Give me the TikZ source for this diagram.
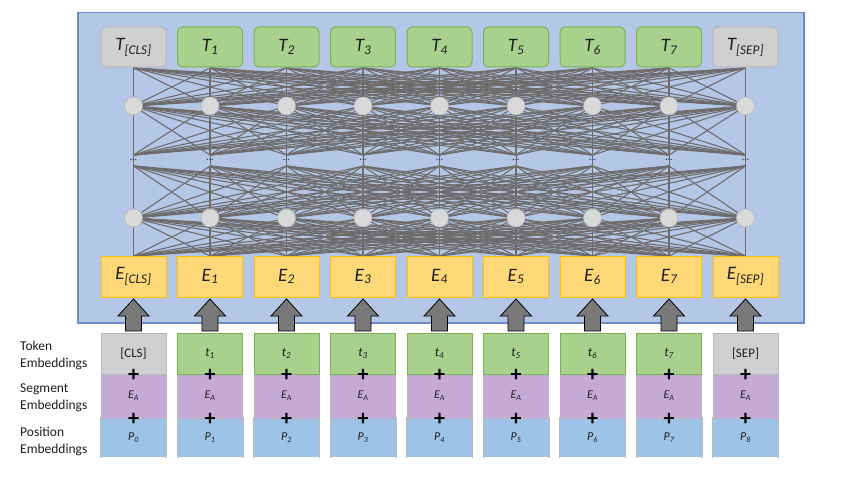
\documentclass[tikz,border=0pt]{standalone}
\usepackage{fontspec}
\setmainfont{Carlito}
\usetikzlibrary{calc}
\definecolor{bluebg}{RGB}{180,199,231}
\definecolor{blueedge}{RGB}{110,140,195}
\definecolor{grnfill}{RGB}{169,209,142}
\definecolor{grnedge}{RGB}{120,180,80}
\definecolor{gryfill}{RGB}{208,208,208}
\definecolor{gryedge}{RGB}{185,185,185}
\definecolor{yelfill}{RGB}{255,217,120}
\definecolor{yeledge}{RGB}{255,192,0}
\definecolor{meshcol}{RGB}{112,107,107}
\definecolor{purfill}{RGB}{197,170,214}
\definecolor{posfill}{RGB}{157,195,230}
\definecolor{txt}{RGB}{30,30,30}
\tikzset{
  boxbase/.style={minimum width=65, minimum height=40, inner sep=0, text=txt, line width=1},
  tgreen/.style={boxbase, draw=grnedge, fill=grnfill, rounded corners=5, font=\fontsize{19}{21}\selectfont},
  tgray/.style={boxbase, draw=gryedge, fill=gryfill, rounded corners=5, font=\fontsize{19}{21}\selectfont},
  ebox/.style={boxbase, minimum height=41, draw=yeledge, fill=yelfill, font=\fontsize{19}{21}\selectfont},
  tokgreen/.style={boxbase, minimum height=41, draw=grnedge, fill=grnfill, font=\fontsize{13}{15}\selectfont},
  tokgray/.style={boxbase, minimum height=41, draw=gryedge, fill=gryfill, font=\fontsize{13}{15}\selectfont},
  segbox/.style={boxbase, minimum height=44, draw=gryedge!70!purfill, line width=0.6, fill=purfill, font=\fontsize{12}{14}\selectfont},
  posbox/.style={boxbase, minimum height=39, fill=posfill, font=\fontsize{12}{14}\selectfont},
  circ/.style={circle, minimum size=18, inner sep=0, draw=gryedge, fill=gryfill!80!white, line width=0.6},
  mesh/.style={draw=meshcol, line width=1.1},
  vline/.style={draw=meshcol, line width=0.8},
  fat/.style={draw=black, fill=gray!95!black, line width=0.8, line join=miter},
  plus/.style={inner sep=0, font=\fontsize{22}{22}\selectfont\bfseries},
  sidelab/.style={anchor=west, align=left, inner sep=0, text=txt, font=\fontsize{13.5}{17}\selectfont},
  dotlab/.style={inner sep=0, text=blueedge!40!black, font=\fontsize{9}{9}\selectfont\bfseries}
}
\begin{document}
\begin{tikzpicture}[x=1pt,y=-1pt]
\useasboundingbox (0,0) rectangle (859,481);
\node[draw=blueedge, fill=bluebg, line width=1.5, minimum width=726, minimum height=310, anchor=north west, inner sep=0] (enc) at (77,12) {};
% coordinates
\foreach \i in {0,...,8} {
  \pgfmathsetmacro\x{133.5+76.5*\i}
  \coordinate (top\i) at (\x,68);
  \coordinate (ca\i) at (\x,106);
  \coordinate (da\i) at (\x,155);
  \coordinate (dm\i) at (\x,160);
  \coordinate (db\i) at (\x,166);
  \coordinate (cb\i) at (\x,218);
  \coordinate (bot\i) at (\x,256);
}
% vertical lines
\foreach \i in {0,...,8} \draw[vline] (top\i) -- (bot\i);
% mesh
\foreach \i in {0,...,8} {
  \foreach \j in {0,...,8} {
    \draw[mesh] (top\i) -- (ca\j) (ca\i) -- (da\j) (db\i) -- (cb\j) (cb\i) -- (bot\j);
  }
}
% circles and dots
\foreach \i in {0,...,8} {
  \node[circ] (h1\i) at (ca\i) {};
  \node[circ] (h2\i) at (cb\i) {};
  \node[dotlab] (dots\i) at (dm\i) {...};
}
% T boxes
\foreach \i/\lab/\sty in {0/{[CLS]}/tgray,1/1/tgreen,2/2/tgreen,3/3/tgreen,4/4/tgreen,5/5/tgreen,6/6/tgreen,7/7/tgreen,8/{[SEP]}/tgray} {
  \pgfmathsetmacro\x{133.5+76.5*\i}
  \node[\sty] (T\i) at (\x,47) {\textit{T\textsubscript{\lab}}};
}
% E boxes
\foreach \i/\lab in {0/{[CLS]},1/1,2/2,3/3,4/4,5/5,6/6,7/7,8/{[SEP]}} {
  \pgfmathsetmacro\x{133.5+76.5*\i}
  \node[ebox] (E\i) at (\x,276.5) {\textit{E\textsubscript{\lab}}};
}
% bottom embeddings
\foreach \i/\lab/\sty in {0/{[CLS]}/tokgray,1/{\textit{t\textsubscript{1}}}/tokgreen,2/{\textit{t\textsubscript{2}}}/tokgreen,3/{\textit{t\textsubscript{3}}}/tokgreen,4/{\textit{t\textsubscript{4}}}/tokgreen,5/{\textit{t\textsubscript{5}}}/tokgreen,6/{\textit{t\textsubscript{6}}}/tokgreen,7/{\textit{t\textsubscript{7}}}/tokgreen,8/{[SEP]}/tokgray} {
  \pgfmathsetmacro\x{133.5+76.5*\i}
  \node[posbox] (pos\i) at (\x,437.5) {\textit{P\textsubscript{\i}}};
  \draw[gryedge, line width=0.6] (pos\i.south west) -- (pos\i.north west) -- (pos\i.north east) -- (pos\i.south east);
  \node[segbox] (seg\i) at (\x,396) {\textit{E\textsubscript{A}}};
  \node[\sty] (tok\i) at (\x,353.5) {\lab};
  \node[plus] (pa\i) at (\x,375) {+};
  \node[plus] (pb\i) at (\x,419) {+};
  \coordinate (ar\i) at (\x,299);
  \draw[fat] (ar\i) -- ++(15.5,17) -- ++(-7.5,0) -- ++(0,15) -- ++(-16,0) -- ++(0,-15) -- ++(-7.5,0) -- cycle;
}
% side labels
\node[sidelab] (ltok) at (20,355) {Token\\Embeddings};
\node[sidelab] (lseg) at (20,398) {Segment\\Embeddings};
\node[sidelab] (lpos) at (20,441) {Position\\Embeddings};
\end{tikzpicture}
\end{document}
